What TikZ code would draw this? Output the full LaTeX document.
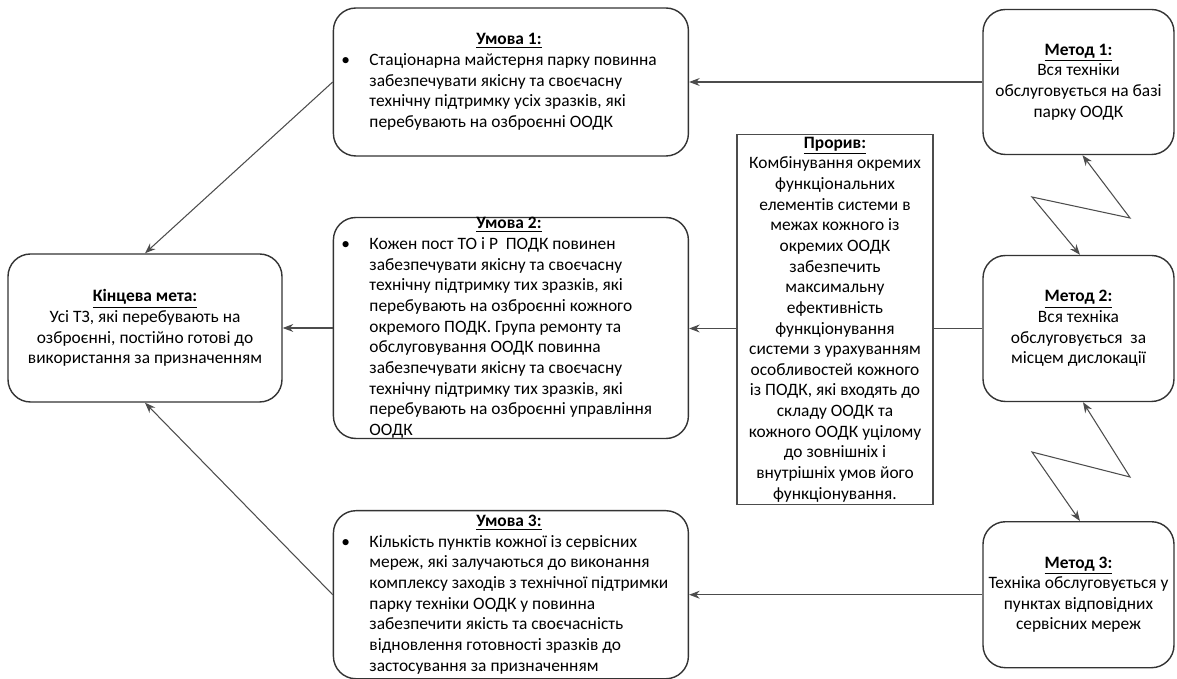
\documentclass[tikz,border=0pt]{standalone}
\usepackage{fontspec}
\setmainfont{Carlito}
\usepackage{tikz}
\usetikzlibrary{positioning, arrows.meta}

\newcommand{\heading}[1]{\underline{\textbf{#1}}}
\newcommand{\condition}[2]{%
  \begin{tabular}{@{}p{0.56cm}@{}p{6.14cm}@{}}
    \multicolumn{2}{c}{\heading{#1}}\\
    \textbullet & #2
  \end{tabular}}

\begin{document}
\begin{tikzpicture}[
    font=\fontsize{9.9}{11.74}\selectfont, % Calibri-like text
    box/.style={draw=black!80, line width=0.8pt, rounded corners=0.45cm, fill=white, align=flush center},
    condbox/.style={box, minimum width=7.1cm, inner xsep=0pt},
    methodbox/.style={box, text width=3.6cm, inner xsep=0.11cm, minimum height=2.92cm},
    breakbox/.style={draw=black!70, line width=0.6pt, fill=white, text width=3.8cm, inner xsep=0.06cm, inner ysep=0.045cm, align=flush center},
    arrow/.style={-{Stealth[length=6pt, width=4.5pt]}, draw=black!70, line width=0.6pt},
    zigzag/.style={arrow, {Stealth[length=6pt, width=4.5pt]}-{Stealth[length=6pt, width=4.5pt]}}
]
\useasboundingbox (0,0) rectangle (23.54,-13.58);

% final goal
\node[box, text width=5.2cm, inner xsep=0.14cm, minimum height=2.96cm] (goal) at (2.90,-6.56) {
    \heading{Кінцева мета:}\\
    Усі ТЗ, які перебувають на\\
    озброєнні, постійно готові до\\
    використання за призначенням
};

% condition 2
\node[condbox, minimum height=4.42cm, inner ysep=-0.065cm, right=1cm of goal] (umova2) {\condition{Умова 2:}{
    Кожен пост ТО і Р\ \ ПОДК повинен\newline
    забезпечувати якісну та своєчасну\newline
    технічну підтримку тих зразків, які\newline
    перебувають на озброєнні кожного\newline
    окремого ПОДК. Група ремонту та\newline
    обслуговування ООДК повинна\newline
    забезпечувати якісну та своєчасну\newline
    технічну підтримку тих зразків, які\newline
    перебувають на озброєнні управління\newline
    ООДК}
};

% condition 1
\node[condbox, minimum height=2.96cm] (umova1) at (umova2 |- 0,-1.64) {\condition{Умова 1:}{
    Стаціонарна майстерня парку повинна\newline
    забезпечувати якісну та своєчасну\newline
    технічну підтримку усіх зразків, які\newline
    перебувають на озброєнні ООДК}
};

% condition 3
\node[condbox, anchor=north, inner ysep=0.03cm] (umova3) at (umova2 |- 0,-10.2) {\condition{Умова 3:}{
    Кількість пунктів кожної із сервісних\newline
    мереж, які залучаються до виконання\newline
    комплексу заходів з технічної підтримки\newline
    парку техніки ООДК у повинна\newline
    забезпечити якість та своєчасність\newline
    відновлення готовності зразків до\newline
    застосування за призначенням}
};

% methods
\node[methodbox] (metod2) at (21.57,-6.57) {
    \heading{Метод 2:}\\
    Вся техніка\\
    обслуговується\ \ за\\
    місцем дислокації
};
\node[methodbox, minimum height=2.90cm] (metod1) at (metod2 |- umova1) {
    \heading{Метод 1:}\\
    Вся техніки\\
    обслуговується на базі\\
    парку ООДК
};
\node[methodbox] (metod3) at (metod2 |- umova3) {
    \heading{Метод 3:}\\
    Техніка обслуговується у\\
    пунктах відповідних\\
    сервісних мереж
};

% Draw arrows
\draw[arrow] (umova1.west) -- (goal.north);
\draw[arrow] (umova2.west) -- (goal.east);
\draw[arrow] (umova3.west) -- (goal.south);
\draw[arrow] (metod1.west) -- (metod1.west -| umova1.east);
\draw[arrow] (metod2.west) -- (metod2.west -| umova2.east);
\draw[arrow] (metod3.west) -- (metod3.west -| umova3.east);

% contradictions between methods
\coordinate (zz1a) at (22.60,-4.36);
\coordinate (zz1b) at (20.64,-3.94);
\coordinate (zz2a) at (22.60,-9.54);
\coordinate (zz2b) at (20.64,-9.04);
\draw[zigzag] ([xshift=0.08cm]metod1.south) -- (zz1a) -- (zz1b) -- ([xshift=0.03cm]metod2.north);
\draw[zigzag] ([xshift=0.09cm]metod2.south) -- (zz2a) -- (zz2b) -- ([xshift=0.03cm]metod3.north);

% breakthrough (on top of the middle arrow)
\node[breakbox] (prorv) at (16.70,-6.39) {
    \heading{Прорив:}\\
    Комбінування окремих\\
    функціональних\\
    елементів системи в\\
    межах кожного із\\
    окремих ООДК\\
    забезпечить\\
    максимальну\\
    ефективність\\
    функціонування\\
    системи з урахуванням\\
    особливостей кожного\\
    із ПОДК, які входять до\\
    складу ООДК та\\
    кожного ООДК уцілому\\
    до зовнішніх і\\
    внутрішніх умов його\\
    функціонування.
};
\end{tikzpicture}
\end{document}
